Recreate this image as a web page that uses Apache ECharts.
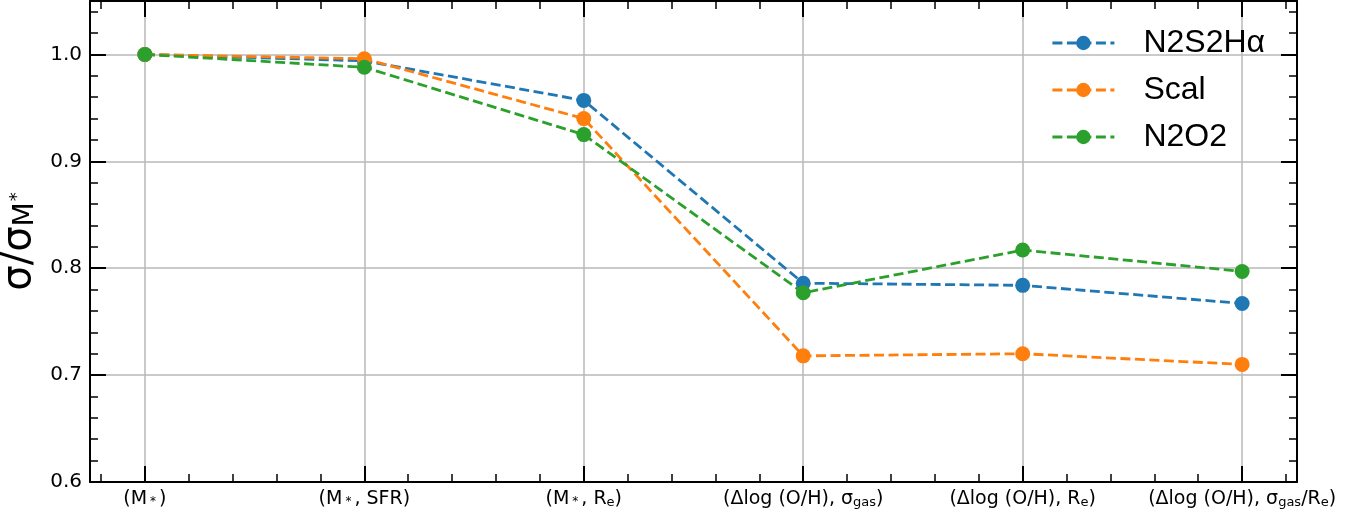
<!DOCTYPE html>
<html>
<head>
<meta charset="utf-8">
<title>σ/σM* by parameter set</title>
<script src="https://cdn.jsdelivr.net/npm/echarts@6/dist/echarts.min.js"></script>
<style>
  html, body { margin: 0; padding: 0; background: #ffffff; }
  #chart { width: 1361px; height: 518px; }
</style>
</head>
<body>
<div id="chart"></div>
<script>
// Parameter sets along the x axis (plain names)
const categories = ['(M*)', '(M*, SFR)', '(M*, Re)', '(Δlog (O/H), σgas)', '(Δlog (O/H), Re)', '(Δlog (O/H), σgas/Re)'];
// Same tick labels with rich-text markup for subscripts
const tickLabels = [
  '(M{st|*})',
  '(M{st|*}, SFR)',
  '(M{st|*}, R{sub|e})',
  '(Δlog (O/H), σ{sub|gas})',
  '(Δlog (O/H), R{sub|e})',
  '(Δlog (O/H), σ{sub|gas}/R{sub|e})'
];
const yTicks = [0.6, 0.7, 0.8, 0.9, 1.0];

const seriesNames = ['N2S2Hα', 'Scal', 'N2O2'];
const n2s2ha = [1.000, 0.994, 0.957, 0.786, 0.784, 0.767];
const scal   = [1.000, 0.996, 0.940, 0.718, 0.720, 0.710];
const n2o2   = [1.000, 0.988, 0.925, 0.777, 0.817, 0.797];
const colors = ['#1f77b4', '#ff7f0e', '#2ca02c'];

const SANS = 'Liberation Sans, Arial, Helvetica, sans-serif';
const MATH = 'DejaVu Sans, sans-serif';
const X_MIN = -0.25, X_MAX = 5.25;
const Y_MIN = 0.6, Y_MAX = 1.05;

function pairs(values) {
  return values.map((v, i) => [i, v]);
}

function xLabel(v) {
  const i = Math.round(v);
  if (Math.abs(v - i) > 1e-6 || i < 0 || i >= tickLabels.length) return '';
  return tickLabels[i];
}

function yLabel(v) {
  const hit = yTicks.find(t => Math.abs(t - v) < 1e-6);
  return hit === undefined ? '' : hit.toFixed(1);
}

const gridLine = { show: true, lineStyle: { color: '#b8b8b8', width: 1.5 } };
const frameLine = { show: true, onZero: false, lineStyle: { color: '#000', width: 2 } };
const noLine = { show: false, onZero: false };

// Major ticks (length 16) and minor ticks (length 8) on every side of the frame
function xMajor(position, withLabels) {
  return {
    type: 'value', position, min: X_MIN, max: X_MAX,
    minInterval: 1, maxInterval: 1, splitNumber: 5,
    axisLine: frameLine,
    axisTick: { show: true, inside: true, length: 16, lineStyle: { color: '#000', width: 2 } },
    splitLine: withLabels ? gridLine : { show: false },
    axisLabel: withLabels ? {
      show: true, margin: 6, color: '#000', fontSize: 19, fontFamily: MATH, lineHeight: 22,
      formatter: xLabel,
      rich: {
        sub: { fontSize: 13, fontFamily: MATH, color: '#000', padding: [8, 0, 0, 0] },
        st: { fontSize: 12, fontFamily: MATH, color: '#000', padding: [6, 3, 0, 3] }
      }
    } : { show: false }
  };
}
function xMinor(position) {
  return {
    type: 'value', position, min: X_MIN, max: X_MAX,
    minInterval: 0.2, maxInterval: 0.2, splitNumber: 27,
    axisLine: noLine,
    axisTick: { show: true, inside: true, length: 8, lineStyle: { color: '#000', width: 1.5 } },
    splitLine: { show: false }, axisLabel: { show: false }
  };
}
function yMajor(position, withLabels) {
  return {
    type: 'value', position, min: Y_MIN, max: Y_MAX, interval: 0.1,
    axisLine: frameLine,
    axisTick: { show: true, inside: true, length: 16, lineStyle: { color: '#000', width: 2 } },
    splitLine: withLabels ? gridLine : { show: false },
    axisLabel: withLabels ? {
      show: true, margin: 8, color: '#000', fontSize: 20, fontFamily: MATH, formatter: yLabel
    } : { show: false },
    name: withLabels ? '{a|σ/σ}{m|M}{st|*}' : '',
    nameLocation: 'middle', nameRotate: 90, nameGap: 45,
    nameTextStyle: {
      color: '#000', fontFamily: MATH,
      rich: {
        a: { fontSize: 40, fontFamily: MATH, color: '#000' },
        m: { fontSize: 28, fontFamily: MATH, color: '#000', padding: [12, 0, 0, 0] },
        st: { fontSize: 18, fontFamily: MATH, color: '#000', padding: [0, 0, 4, 1] }
      }
    }
  };
}
function yMinor(position) {
  return {
    type: 'value', position, min: Y_MIN, max: Y_MAX, interval: 0.02,
    axisLine: noLine,
    axisTick: { show: true, inside: true, length: 8, lineStyle: { color: '#000', width: 1.5 } },
    splitLine: { show: false }, axisLabel: { show: false }
  };
}

const seriesData = [n2s2ha, scal, n2o2];

const option = {
  animation: false,
  backgroundColor: '#ffffff',
  grid: { left: 90, right: 64, top: 1, bottom: 36, containLabel: false, outerBoundsMode: 'none' },
  xAxis: [xMajor('bottom', true), xMinor('bottom'), xMajor('top', false), xMinor('top')],
  yAxis: [yMajor('left', true), yMinor('left'), yMajor('right', false), yMinor('right')],
  legend: {
    data: seriesNames,
    orient: 'vertical',
    left: 1051, top: 27,
    padding: 0,
    itemWidth: 62, itemHeight: 18, itemGap: 15,
    lineStyle: { width: 2.8 },
    formatter: '{t|{name}}',
    textStyle: {
      color: '#000', fontSize: 32, fontFamily: SANS,
      rich: { t: { fontSize: 32, fontFamily: SANS, color: '#000', lineHeight: 32, padding: [0, 0, 0, 24] } }
    }
  },
  series: seriesNames.map((name, k) => ({
    name,
    type: 'line',
    xAxisIndex: 0, yAxisIndex: 0,
    data: pairs(seriesData[k]),
    symbol: 'circle', symbolSize: 15,
    color: colors[k],
    itemStyle: { color: colors[k] },
    lineStyle: { color: colors[k], width: 2.8, type: [10, 4.5] },
    z: 3 + k
  }))
};

const chart = echarts.init(document.getElementById('chart'), null, { renderer: 'canvas' });
chart.setOption(option);
</script>
</body>
</html>
